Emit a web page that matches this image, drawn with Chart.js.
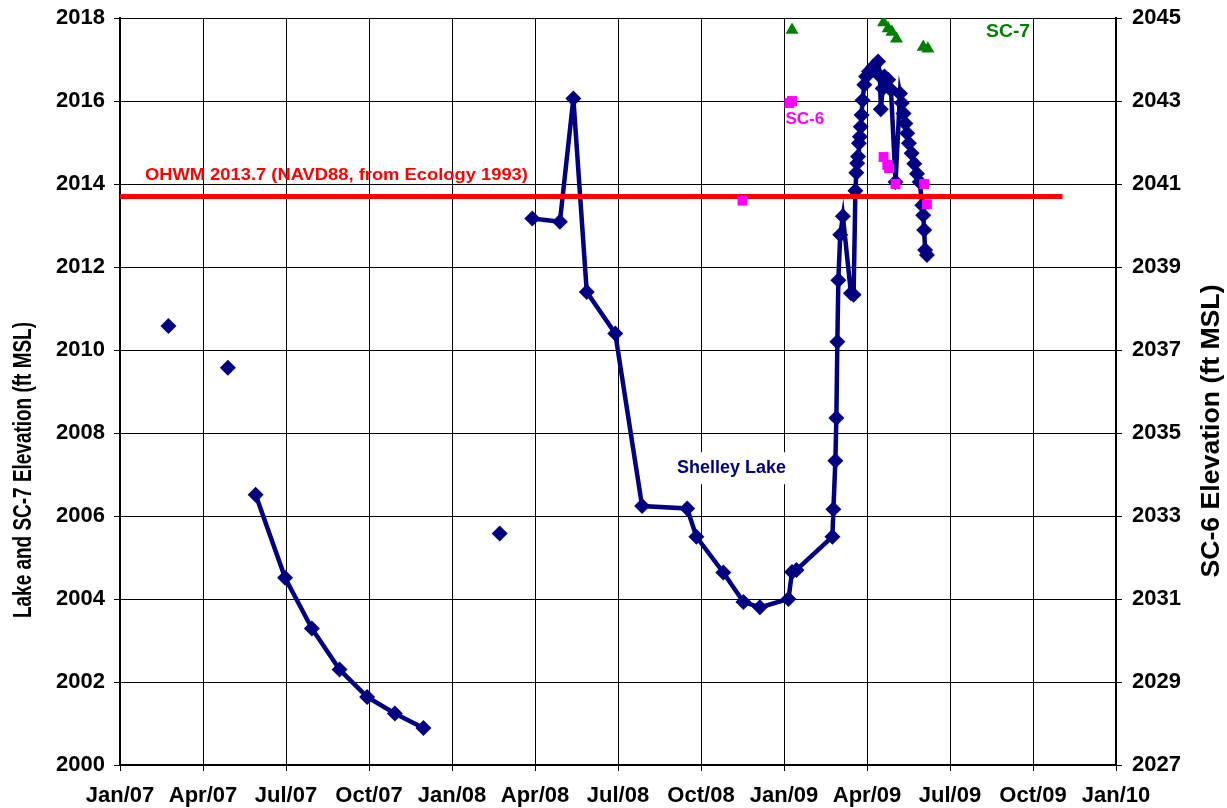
<!DOCTYPE html>
<html>
<head>
<meta charset="utf-8">
<script src="https://cdn.jsdelivr.net/npm/chart.js@4.4.1/dist/chart.umd.min.js"></script>
<style>
  html, body { margin: 0; padding: 0; background: #ffffff; }
  #wrap { width: 1227px; height: 808px; }
</style>
</head>
<body>
<div id="wrap"><canvas id="chart" width="1227" height="808"></canvas></div>
<script>
// ---- Shelley Lake water level (ft MSL); null entries break the line ----
const lakeDates = [
  '2007-02-22', '2007-03-25', '2007-04-28', '2007-05-10',
  '2007-05-29', '2007-06-30', '2007-07-30', '2007-08-30', '2007-09-29', '2007-10-30', '2007-11-30',
  '2008-01-15', '2008-02-22', '2008-03-10',
  '2008-03-29', '2008-04-28', '2008-05-13', '2008-05-28', '2008-06-28', '2008-07-28',
  '2008-09-16', '2008-09-26', '2008-10-26', '2008-11-17', '2008-12-05',
  '2009-01-06', '2009-01-10', '2009-01-15',
  '2009-02-22', '2009-02-23', '2009-02-25', '2009-02-26', '2009-02-27', '2009-02-28',
  '2009-03-02', '2009-03-05', '2009-03-14', '2009-03-17', '2009-03-19',
  '2009-03-20', '2009-03-21', '2009-03-22', '2009-03-23', '2009-03-24', '2009-03-25',
  '2009-03-26', '2009-03-27', '2009-03-29', '2009-03-31', '2009-04-03', '2009-04-08',
  '2009-04-13', '2009-04-15', '2009-04-16', '2009-04-18', '2009-04-20', '2009-04-24',
  '2009-04-27', '2009-05-02', '2009-05-07', '2009-05-09', '2009-05-11', '2009-05-13',
  '2009-05-15', '2009-05-17', '2009-05-20', '2009-05-23', '2009-05-26', '2009-05-29',
  '2009-06-01', '2009-06-02', '2009-06-03', '2009-06-04', '2009-06-06'
];
const lakeLevels = [
  2010.58, null, 2009.57, null,
  2006.51, 2004.51, 2003.29, 2002.30, 2001.64, 2001.24, 2000.89,
  null, 2005.58, null,
  2013.17, 2013.09, 2016.06, 2011.40, 2010.40, 2006.24,
  2006.18, 2005.50, 2004.64, 2003.93, 2003.80,
  2004.00, 2004.65, 2004.70,
  2005.50, 2006.16, 2007.33, 2008.36, 2010.20, 2011.68,
  2012.78, 2013.22, 2011.37, 2011.33, 2013.84,
  2014.27, 2014.50, 2014.66, 2014.98, 2015.14, 2015.38,
  2015.66, 2016.02, 2016.39, 2016.59, 2016.71, 2016.83,
  2016.95, 2016.60, 2015.80, 2016.30, 2016.59, 2016.51,
  2016.27, 2014.05, 2016.18, 2015.95, 2015.70, 2015.46,
  2015.22, 2014.98, 2014.74, 2014.49, 2014.25, 2014.05,
  2013.49, 2013.25, 2012.89, 2012.41, 2012.29
];

// ---- SC-6 well (right axis) ----
const sc6Dates = ['2008-11-16', '2009-01-07', '2009-01-10', '2009-04-19', '2009-04-23',
                  '2009-04-25', '2009-05-02', '2009-06-03', '2009-06-06'];
const sc6Levels = [2040.60, 2042.95, 2043.00, 2041.65, 2041.46, 2041.38, 2041.00, 2041.00, 2040.51];

// ---- SC-7 well (left axis) ----
const sc7Dates = ['2009-01-10', '2009-04-19', '2009-04-24', '2009-04-28', '2009-05-03', '2009-06-02', '2009-06-07'];
const sc7Levels = [2017.71, 2017.89, 2017.75, 2017.66, 2017.50, 2017.30, 2017.26];

// ---- Ordinary high water mark ----
const ohwmDates = ['2007-01-01', '2009-11-03'];
const ohwmLevels = [2013.7, 2013.7];

// ---- Axis labels ----
const xTickLabels = ['Jan/07', 'Apr/07', 'Jul/07', 'Oct/07', 'Jan/08', 'Apr/08', 'Jul/08',
                     'Oct/08', 'Jan/09', 'Apr/09', 'Jul/09', 'Oct/09', 'Jan/10'];
const leftTitle = 'Lake and SC-7 Elevation (ft MSL)';
const rightTitle = 'SC-6 Elevation (ft MSL)';

const FONT = '"Liberation Sans", Arial, Helvetica, sans-serif';

// months elapsed since 1 Jan 2007 (fractional within the month)
function monthIndex(s) {
  const [y, m, d] = s.split('-').map(Number);
  const dim = new Date(y, m, 0).getDate();
  return (y - 2007) * 12 + (m - 1) + (d - 1) / dim;
}
function points(dates, values) {
  return dates.map((d, i) => ({ x: monthIndex(d), y: values[i] }));
}

function drawText(ctx, text, x, y, opts) {
  ctx.save();
  ctx.translate(x, y);
  if (opts.rotate) ctx.rotate(opts.rotate);
  ctx.font = `bold ${opts.size}px ${FONT}`;
  const natural = ctx.measureText(text).width;
  const sx = opts.length ? opts.length / natural : 1;
  ctx.scale(sx, 1);
  ctx.fillStyle = opts.color;
  ctx.textAlign = opts.align || 'center';
  ctx.textBaseline = 'middle';
  ctx.fillText(text, 0, 0);
  ctx.restore();
}

const labelsPlugin = {
  id: 'labels',
  afterDatasetsDraw(chart) {
    const ctx = chart.ctx;
    const xs = chart.scales.x, ys = chart.scales.y, y2 = chart.scales.y2;
    // OHWM caption just above the red line
    drawText(ctx, 'OHWM 2013.7 (NAVD88, from Ecology 1993)', xs.getPixelForValue(0.9), ys.getPixelForValue(2014.2),
             { size: 17, color: '#ff0000', align: 'left', length: 383 });
    // Shelley Lake label on a white box
    const lx = xs.getPixelForValue(22.1), ly = ys.getPixelForValue(2007.15);
    ctx.save();
    ctx.fillStyle = '#ffffff';
    ctx.fillRect(lx - 58, ly - 16, 116, 32);
    ctx.restore();
    drawText(ctx, 'Shelley Lake', lx, ly, { size: 18, color: '#000080' });
    drawText(ctx, 'SC-6', xs.getPixelForValue(24.75), y2.getPixelForValue(2042.55), { size: 17, color: '#ff00ff' });
    drawText(ctx, 'SC-7', xs.getPixelForValue(32.1), ys.getPixelForValue(2017.65), { size: 18, color: '#008000', length: 44 });
  },
  afterDraw(chart) {
    const ctx = chart.ctx;
    drawText(ctx, leftTitle, 24, 470, { size: 25, color: '#000000', rotate: -Math.PI / 2, length: 296 });
    drawText(ctx, rightTitle, 1212, 431, { size: 25, color: '#000000', rotate: -Math.PI / 2, length: 293 });
  }
};

const tickFont = { family: FONT, size: 22, weight: 'bold' };

// keep the plot area fixed: axis widths/heights set explicitly, no extra label padding
function fixVertical(width) {
  return s => { s.width = width; s.paddingTop = 0; s.paddingBottom = 0; };
}

new Chart(document.getElementById('chart'), {
  type: 'line',
  data: {
    datasets: [
      {
        label: 'SC-7', data: points(sc7Dates, sc7Levels), yAxisID: 'y', showLine: false,
        pointStyle: 'triangle', pointRadius: 7.5, pointBackgroundColor: '#008000', pointBorderWidth: 0,
        borderColor: '#008000'
      },
      {
        label: 'SC-6', data: points(sc6Dates, sc6Levels), yAxisID: 'y2', showLine: false,
        pointStyle: 'rect', pointRadius: 7, pointBackgroundColor: '#ff00ff', pointBorderWidth: 0,
        borderColor: '#ff00ff'
      },
      {
        label: 'OHWM', data: points(ohwmDates, ohwmLevels), yAxisID: 'y',
        borderColor: '#ff0000', borderWidth: 5, pointRadius: 0
      },
      {
        label: 'Shelley Lake', data: points(lakeDates, lakeLevels), yAxisID: 'y',
        borderColor: '#000080', borderWidth: 4.5, spanGaps: false, tension: 0,
        pointStyle: 'rectRot', pointRadius: 8, pointBackgroundColor: '#000080', pointBorderWidth: 0
      }
    ]
  },
  options: {
    responsive: false,
    animation: false,
    devicePixelRatio: 1,
    layout: { padding: { top: 18, left: 0, right: 0, bottom: 0 } },
    plugins: { legend: { display: false }, tooltip: { enabled: false } },
    scales: {
      x: {
        type: 'linear', min: 0, max: 36,
        afterFit: s => { s.height = 43; s.paddingLeft = 0; s.paddingRight = 0; },
        grid: { color: '#000000', lineWidth: 1, tickLength: 6 },
        border: { display: true, color: '#000000', width: 2 },
        ticks: {
          stepSize: 3, autoSkip: false, maxRotation: 0, padding: 12, color: '#000000', font: tickFont,
          callback: v => xTickLabels[Math.round(v / 3)]
        }
      },
      y: {
        type: 'linear', position: 'left', min: 2000, max: 2018,
        afterFit: fixVertical(120),
        grid: { color: '#000000', lineWidth: 1, tickLength: 6 },
        border: { display: true, color: '#000000', width: 2 },
        ticks: { stepSize: 2, padding: 9, color: '#000000', font: tickFont, callback: v => String(v) }
      },
      y2: {
        type: 'linear', position: 'right', min: 2027, max: 2045,
        afterFit: fixVertical(111),
        grid: { drawOnChartArea: false, color: '#000000', lineWidth: 1, tickLength: 6 },
        border: { display: true, color: '#000000', width: 2 },
        ticks: { stepSize: 2, padding: 10, color: '#000000', font: tickFont, callback: v => String(v) }
      }
    }
  },
  plugins: [labelsPlugin]
});
</script>
</body>
</html>
